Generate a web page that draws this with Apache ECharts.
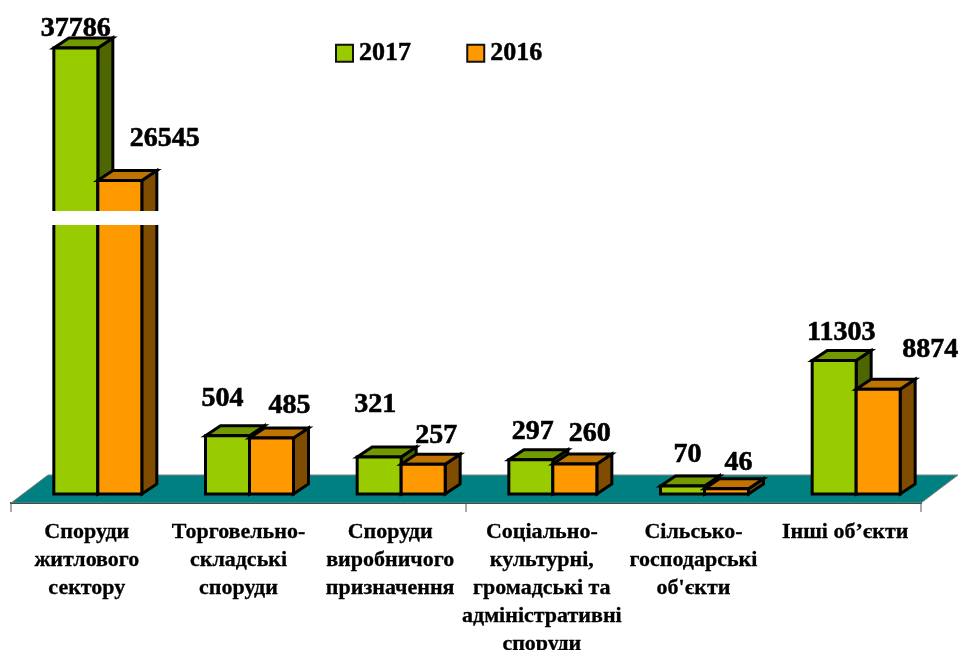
<!DOCTYPE html>
<html>
<head>
<meta charset="utf-8">
<title>Chart</title>
<style>
  html, body { margin: 0; padding: 0; background: #fff; }
  #main { width: 960px; height: 650px; }
</style>
<script src="https://cdn.jsdelivr.net/npm/echarts@6/dist/echarts.min.js"></script>
</head>
<body>
<div id="main"></div>
<script>
var categories = [
  'Споруди\nжитлового\nсектору',
  'Торговельно-\nскладські\nспоруди',
  'Споруди\nвиробничого\nпризначення',
  'Соціально-\nкультурні,\nгромадські та\nадміністративні\nспоруди',
  'Сільсько-\nгосподарські\nоб\'єкти',
  'Інші об’єкти'
];
var values2017 = [37786, 504, 321, 297, 70, 11303];
var values2016 = [26545, 485, 257, 260, 46, 8874];

// the original draws small values on a stretched scale, so two hidden axes
var smallLimit = 1000;

// hand placed value labels: shift from bar centre / bar top
var labelShift2017 = [[0, -19], [-5, -37], [-4, -52], [2, -28], [5, -31], [7, -28]];
var labelShift2016 = [[45, -42], [18, -32], [13, -29], [15, -30], [12, -26], [52, -39]];

var serif = '"Liberation Serif"';
var colors2017 = { front: '#99CC00', top: '#739900', side: '#4D6600' };
var colors2016 = { front: '#FF9900', top: '#BF7300', side: '#804D00' };

var barW = 44, depthX = 15, depthY = 10;
var floorShiftX = 11, floorShiftY = 9;

function barRenderer(colors, side, shifts) {
  return function (params, api) {
    var idx = api.value(0);
    var val = api.value(1);
    var pos = api.coord([idx, val]);
    var base = api.coord([idx, 0]);
    var x0 = pos[0] + floorShiftX + (side < 0 ? -barW : 0);
    var x1 = x0 + barW;
    var yTop = pos[1] - floorShiftY;
    var yBot = base[1] - floorShiftY;
    var line = { stroke: '#000', lineWidth: 3, lineJoin: 'miter' };
    return {
      type: 'group',
      children: [
        {
          type: 'polygon',
          shape: { points: [[x1, yTop], [x1 + depthX, yTop - depthY], [x1 + depthX, yBot - depthY], [x1, yBot]] },
          style: Object.assign({ fill: colors.side }, line)
        },
        {
          type: 'polygon',
          shape: { points: [[x0, yTop], [x0 + depthX, yTop - depthY], [x1 + depthX, yTop - depthY], [x1, yTop]] },
          style: Object.assign({ fill: colors.top }, line)
        },
        {
          type: 'rect',
          shape: { x: x0, y: yTop, width: barW, height: yBot - yTop },
          style: Object.assign({ fill: colors.front }, line)
        },
        {
          type: 'text',
          z2: 20,
          style: {
            x: (x0 + x1) / 2 + shifts[idx][0],
            y: yTop + shifts[idx][1],
            text: String(val),
            fill: '#000',
            stroke: '#000',
            lineWidth: 0.6,
            fontFamily: serif,
            fontWeight: 'bold',
            fontSize: 28,
            textAlign: 'center',
            textVerticalAlign: 'middle'
          }
        }
      ]
    };
  };
}

function pick(values, small) {
  var out = [];
  values.forEach(function (v, i) {
    if ((v < smallLimit) === small) out.push([i, v]);
  });
  return out;
}

function barSeries(name, values, colors, side, shifts, small) {
  return {
    name: name,
    type: 'custom',
    yAxisIndex: small ? 1 : 0,
    coordinateSystem: 'cartesian2d',
    encode: { x: 0, y: 1 },
    itemStyle: { color: colors.front },
    renderItem: barRenderer(colors, side, shifts),
    data: pick(values, small)
  };
}

var floorSeries = {
  type: 'custom',
  silent: true,
  coordinateSystem: 'cartesian2d',
  encode: { x: 0, y: 1 },
  renderItem: function (params) {
    var c = params.coordSys;
    var b = c.y + c.height;
    var ticks = [c.x, c.x + c.width / 2, c.x + c.width].map(function (tx) {
      return {
        type: 'line',
        shape: { x1: tx, y1: b, x2: tx, y2: b + 9 },
        style: { stroke: '#555', lineWidth: 1 }
      };
    });
    return {
      type: 'group',
      children: [
        {
          type: 'polygon',
          shape: { points: [[c.x, b], [c.x + 37, b - 28], [c.x + c.width + 37, b - 28], [c.x + c.width, b]] },
          style: { fill: '#008080', stroke: '#808080', lineWidth: 1 }
        }
      ].concat(ticks)
    };
  },
  data: [[0, 0]]
};

var myChart = echarts.init(document.getElementById('main'));
myChart.setOption({
  animation: false,
  backgroundColor: '#fff',
  grid: { left: 11, top: 3, width: 910, height: 500, outerBoundsMode: 'none' },
  legend: {
    left: 330,
    top: 35,
    icon: 'rect',
    itemWidth: 17,
    itemHeight: 17,
    itemGap: 55,
    selectedMode: false,
    textStyle: {
      fontFamily: serif, fontWeight: 'bold', fontSize: 26, color: '#000',
      textBorderColor: '#000', textBorderWidth: 0.5, padding: [0, 0, 0, 1]
    },
    data: [
      { name: '2017', itemStyle: { color: colors2017.front, borderColor: '#111', borderWidth: 2 } },
      { name: '2016', itemStyle: { color: colors2016.front, borderColor: '#111', borderWidth: 2 } }
    ]
  },
  xAxis: {
    type: 'category',
    data: categories,
    axisLine: { show: true, lineStyle: { color: '#111', width: 2 } },
    axisTick: { show: false },
    axisLabel: {
      interval: 0,
      margin: 15,
      color: '#000',
      fontFamily: serif,
      fontWeight: 'bold',
      fontSize: 22,
      lineHeight: 28,
      textBorderColor: '#000',
      textBorderWidth: 0.3
    }
  },
  yAxis: [
    { type: 'value', min: 0, max: 42350, show: false },
    { type: 'value', min: 0, max: 4335, show: false }
  ],
  graphic: [
    { type: 'rect', z: 100, shape: { x: 52, y: 211, width: 107, height: 14 }, style: { fill: '#fff' } }
  ],
  series: [
    floorSeries,
    barSeries('2017', values2017, colors2017, -1, labelShift2017, false),
    barSeries('2017', values2017, colors2017, -1, labelShift2017, true),
    barSeries('2016', values2016, colors2016, 1, labelShift2016, false),
    barSeries('2016', values2016, colors2016, 1, labelShift2016, true)
  ]
});
window.addEventListener('resize', function () {
  myChart.resize();
});
</script>
</body>
</html>
